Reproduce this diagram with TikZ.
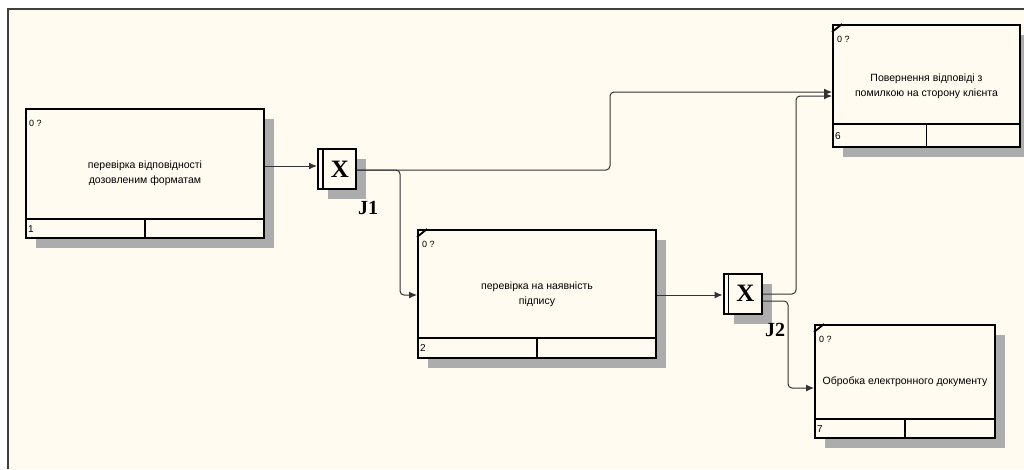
\documentclass[tikz,border=0pt]{standalone}
\usepackage{fontspec}
\setmainfont{Liberation Sans}
\newfontfamily\serifbold{Liberation Serif}
\usetikzlibrary{shadows,arrows.meta}
\definecolor{cream}{RGB}{255,251,240}
\definecolor{shadowgray}{RGB}{172,172,172}
\definecolor{linegray}{RGB}{50,50,50}
\tikzset{
  box/.style={draw=black, line width=2pt, fill=cream, inner sep=0pt, align=center,
    font=\fontsize{10.5}{15}\selectfont,
    general shadow={fill=shadowgray, shadow xshift=10pt, shadow yshift=-10pt}},
  junc/.style={draw=black, line width=2pt, fill=cream, inner sep=0pt,
    minimum width=38pt, minimum height=40pt,
    general shadow={fill=shadowgray, shadow xshift=10pt, shadow yshift=-10pt}},
  divline/.style={draw=black, line width=1.8pt},
  tag/.style={font=\fontsize{9}{10}\selectfont, anchor=west, inner sep=0pt},
  num/.style={font=\fontsize{10}{11}\selectfont, anchor=west, inner sep=0pt},
  xmark/.style={font=\serifbold\bfseries\fontsize{25}{25}\selectfont, inner sep=0pt},
  jlabel/.style={font=\serifbold\bfseries\fontsize{20}{20}\selectfont, inner sep=0pt},
  conn/.style={draw=linegray, line width=1pt, rounded corners=4pt, -{Latex[length=8pt,width=7pt]}},
}
\begin{document}
\begin{tikzpicture}[x=1pt,y=-1pt]
\useasboundingbox (0,0) rectangle (1024,469);
\fill[white] (0,0) rectangle (1024,469);
\fill[cream] (8,9) rectangle (1024,469);
\draw[draw=black!75, line width=2pt] (8,469) -- (8,9) -- (1024,9);

% boxes
\node[box, minimum width=238pt, minimum height=129pt] (b1) at (145,173.5)
  {перевірка відповідності\\дозовленим форматам};
\node[box, minimum width=238pt, minimum height=128pt] (b2) at (537,294)
  {перевірка на наявність\\підпису};
\node[box, minimum width=187pt, minimum height=122pt] (b6) at (926.5,86)
  {Повернення відповіді з\\помилкою на сторону клієнта};
\node[box, minimum width=180pt, minimum height=113pt] (b7) at (905,381.5)
  {Обробка електронного документу};

% dividers
\foreach \b/\h in {b1/20,b2/21,b6/24,b7/20}{
  \draw[divline] ([yshift=\h pt]\b.south west) -- ([yshift=\h pt]\b.south east);
  \draw[divline] (\b.south) -- ([yshift=\h pt]\b.south);
}
\foreach \b in {b2,b6,b7}{
  \draw[divline] ([yshift=-8pt]\b.north west) -- ([xshift=10pt]\b.north west);
}

% tags
\node[tag] at ([xshift=4pt,yshift=-15pt]b1.north west) {0 ?};
\node[tag] at ([xshift=5pt,yshift=-15pt]b2.north west) {0 ?};
\node[tag] at ([xshift=5pt,yshift=-15pt]b6.north west) {0 ?};
\node[tag] at ([xshift=5pt,yshift=-15pt]b7.north west) {0 ?};
\node[num] at ([xshift=3pt,yshift=10pt]b1.south west) {1};
\node[num] at ([xshift=3pt,yshift=10.5pt]b2.south west) {2};
\node[num] at ([xshift=3pt,yshift=12pt]b6.south west) {6};
\node[num] at ([xshift=3pt,yshift=10pt]b7.south west) {7};

% junctions
\node[junc] (j1) at (337,169) {};
\draw[divline] ([xshift=6pt]j1.north west) -- ([xshift=6pt]j1.south west);
\node[xmark] (x1) at ([xshift=3pt]j1.center) {X};
\node[jlabel] (l1) at (368,208) {J1};

\node[junc] (j2) at (742.5,293.5) {};
\draw[divline] ([xshift=6pt]j2.north west) -- ([xshift=6pt]j2.south west);
\node[xmark] (x2) at ([xshift=3pt]j2.center) {X};
\node[jlabel] (l2) at (775,330) {J2};

% connectors
\draw[conn] (b1.east |- 0,166) -- (j1.west |- 0,166);
\draw[conn] (j1.east |- 0,170) -- (610,170) -- (610,92) -- (b6.west |- 0,92);
\draw[conn] (j1.east |- 0,170) -- (400,170) -- (400,295) -- (b2.west |- 0,295);
\draw[conn] (b2.east |- 0,295) -- (j2.west |- 0,295);
\draw[conn] (j2.east |- 0,294) -- (796,294) -- (796,96) -- (b6.west |- 0,96);
\draw[conn] (j2.east |- 0,301) -- (788,301) -- (788,388) -- (b7.west |- 0,388);
\end{tikzpicture}
\end{document}
